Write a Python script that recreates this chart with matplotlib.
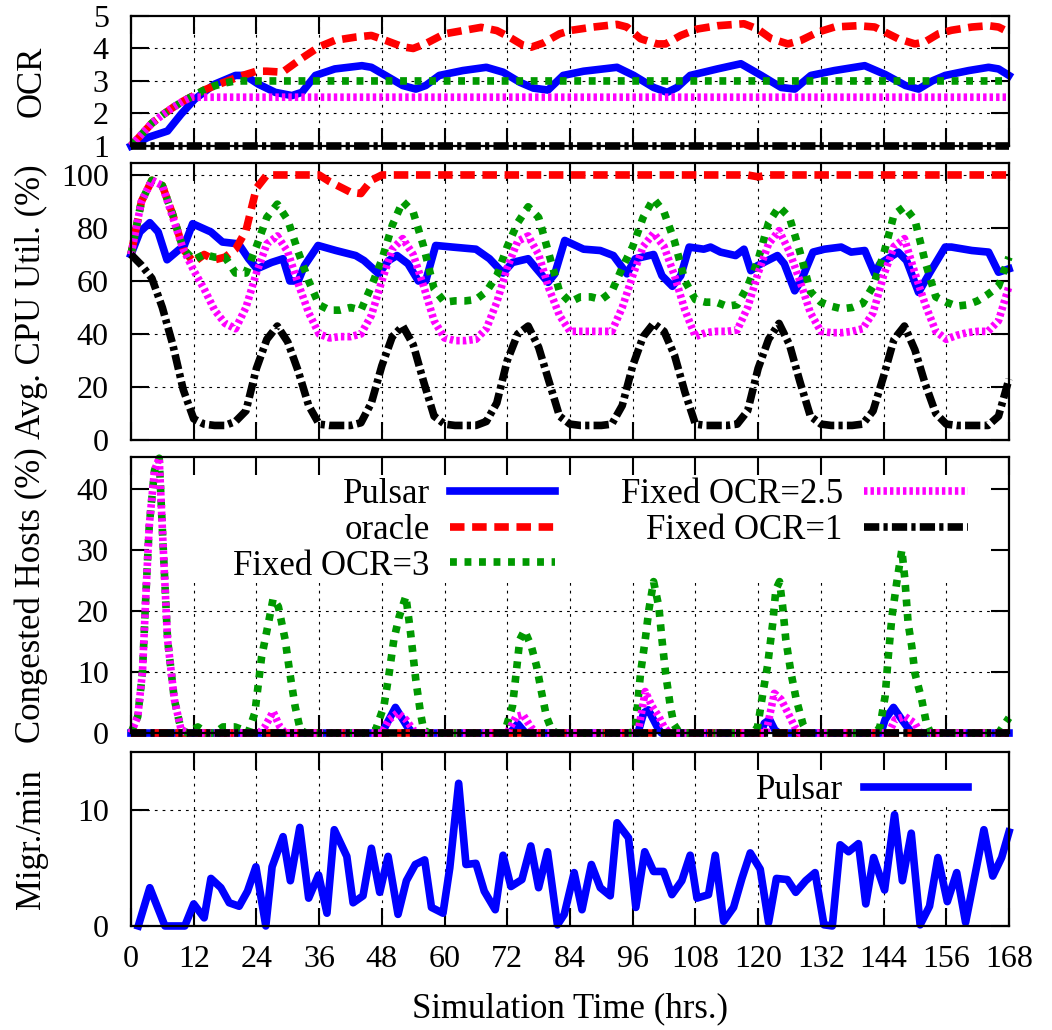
import numpy as np
import matplotlib.pyplot as plt
from matplotlib.patches import Rectangle

plt.rcParams['font.family'] = ['Liberation Serif', 'DejaVu Serif']
plt.rcParams['font.size'] = 24

# ---------------- data ----------------
xticks = [0, 12, 24, 36, 48, 60, 72, 84, 96, 108, 120, 132, 144, 156, 168]
labels = ['Pulsar', 'oracle', 'Fixed OCR=3', 'Fixed OCR=2.5', 'Fixed OCR=1']

# panel 1: OCR
ocr_pulsar_t = [0, 3.2, 7, 9.6, 12.2, 16, 20, 21.8, 24.4, 27.6, 30.8, 32.7, 35.3, 39, 44.2,
                46, 48.7, 52, 54.5, 56.4, 59, 63.5, 68, 71.2, 74.4, 77, 79.8, 82.7, 86.6, 93,
                96.2, 100, 102.6, 104.5, 107, 112.2, 116.7, 120.6, 124.4, 127, 130.1, 134.6,
                140.4, 144.3, 148.2, 150.7, 153.3, 155.8, 160.3, 164.1, 166, 168]
ocr_pulsar = [1.0, 1.26, 1.46, 1.98, 2.44, 2.9, 3.17, 3.17, 2.9, 2.65, 2.55, 2.65, 3.17, 3.37, 3.47,
              3.42, 3.17, 2.86, 2.75, 2.86, 3.17, 3.32, 3.42, 3.27, 2.96, 2.78, 2.72, 3.17, 3.3, 3.42,
              3.17, 2.8, 2.65, 2.8, 3.17, 3.37, 3.53, 3.17, 2.8, 2.75, 3.17, 3.32,
              3.47, 3.2, 2.86, 2.75, 3.0, 3.17, 3.32, 3.42, 3.37, 3.17]
ocr_oracle_t = [0, 2, 4, 6, 8, 10, 12, 14, 16, 18, 21, 24, 26, 29, 32.7, 36, 39, 43, 46, 48.7,
                52, 54, 56.4, 60, 63.5, 67, 70, 72.4, 75, 76.6, 78.9, 82, 84.3, 88.5, 93,
                94.9, 97.5, 100.7, 102.3, 105.2, 108.4, 112.2, 117.3, 119.9, 122.5,
                125.7, 128.2, 131.4, 134.6, 139.1, 142.3, 144.3, 146.8, 150, 151.9,
                154.5, 157, 160.9, 164.1, 166, 168]
ocr_oracle = [1.0, 1.35, 1.7, 1.95, 2.18, 2.38, 2.55, 2.72, 2.85, 2.97, 3.15, 3.3, 3.3, 3.27, 3.7,
              4.05, 4.25, 4.35, 4.4, 4.25, 4.05, 4.0, 4.15, 4.45, 4.55, 4.65, 4.55, 4.35, 4.1, 4.04,
              4.17, 4.45, 4.56, 4.66, 4.74, 4.66, 4.3, 4.14, 4.14, 4.4, 4.6, 4.7, 4.76, 4.6, 4.3,
              4.14, 4.25, 4.5, 4.66, 4.7, 4.66, 4.5, 4.3, 4.14, 4.2, 4.45, 4.56, 4.66, 4.7, 4.66, 4.5]
ocr_fix3_t = [0, 2, 4, 6, 8, 10, 12, 14, 16, 18, 20, 168]
ocr_fix3 = [1.0, 1.35, 1.7, 1.95, 2.18, 2.38, 2.55, 2.72, 2.85, 2.94, 3.0, 3.0]
ocr_fix25_t = [0, 2, 4, 6, 8, 10, 11.5, 168]
ocr_fix25 = [1.0, 1.35, 1.7, 1.95, 2.18, 2.38, 2.5, 2.5]
ocr_fix1_t = [0, 168]
ocr_fix1 = [1.0, 1.0]

# panel 2: average CPU utilisation (%)
cpu_pulsar_t = [0, 1.7, 3.6, 5.2, 6.9, 9, 10.2, 11.8, 15.3, 17.5, 20.6, 22.5, 24.1, 26.9, 29.1,
                30.4, 32, 33.2, 35.8, 39.2, 43, 44.6, 47.4, 49.3, 50.9, 53, 55, 56.4, 58.3, 61.5,
                66, 68.6, 71.2, 73, 76, 77.6, 79.8, 81.1, 83, 86.6, 89.8, 92.3, 94.9, 96.5, 100,
                101.6, 103.6, 105.2, 106.8, 109.6, 110.9, 112.8, 115.7, 117.3, 118.6, 119.9,
                123.7, 125, 127, 128.2, 130.5, 132.7, 135.9, 137.8, 140.4, 142.3, 143.3, 146.8,
                148.4, 150.7, 152.9, 155.8, 157, 160.9, 164.1, 166, 168]
cpu_pulsar = [70, 78.5, 82, 78.5, 68, 71.5, 73.4, 81.6, 78.5, 74.7, 74, 68.4, 64.6, 67, 68.4,
              60, 60, 65.8, 73.4, 71.5, 69.6, 67.7, 62.7, 67.7, 69.6, 66.5, 60, 60, 73.4, 72.8,
              72, 68.4, 63, 67, 68.4, 64.6, 59.5, 62.7, 75.3, 72, 71.5, 69.6, 62.7, 68.4, 70,
              62, 58, 62, 72.8, 72, 72.8, 70.9, 69.6, 72, 63.9, 65.8,
              69.6, 66.5, 56.3, 60, 70.9, 72, 72.8, 70.9, 71.5, 62.7, 66.5, 70.9,
              67.7, 55.7, 63.3, 72.8, 72.8, 71.5, 70.9, 63.3, 64.6]
cpu_oracle_t = [0, 2, 4, 6, 8, 10, 12, 14, 16, 18, 20, 22, 24, 26, 36, 38, 40, 42, 44, 46, 48,
                118, 120, 122, 168]
cpu_oracle = [70, 90, 98, 96, 85, 72, 67, 70, 68, 69, 72, 79, 95, 100, 100, 97.5, 95.5, 93.5, 93,
              98, 100, 100, 99.3, 100, 100]
hours = list(range(0, 169, 2))
cpu_fix3 = [70, 90, 98, 96, 85, 72, 68, 70, 69, 69,
            63, 63, 73, 84, 89, 83, 71, 60, 51, 49,
            49, 50, 49, 58, 68, 81, 90, 86, 73, 57,
            52, 52.5, 52.5, 53, 56, 62, 73, 82, 88, 84,
            70, 56, 52, 54, 54, 53, 56, 65, 73, 84,
            91, 86, 75, 60, 53, 52, 52, 50.5, 51, 58,
            68, 82, 88, 84, 71, 56, 52, 50.5, 49.5, 50,
            51.5, 58, 70, 85, 88, 83, 67, 54, 52, 50.5,
            51, 52.5, 55, 58, 69]
cpu_fix25 = [70, 90, 98, 96, 84, 72, 64, 57, 49, 44,
             42, 50, 63, 74, 77, 71, 59, 48, 40, 38.5,
             39, 39, 40, 47, 60, 72, 76, 70, 58, 45,
             38.5, 37.5, 37.5, 38, 42, 52, 65, 75, 77, 70,
             57, 47, 41, 41, 41, 41, 41, 50, 62, 73,
             78, 73, 62, 49, 39, 40.5, 41, 41, 41.5, 50,
             63, 74, 79, 71, 60, 48, 41, 40.5, 40.5, 41,
             42, 48, 62, 73, 76, 63, 51, 41, 38, 39.5,
             40.5, 41, 41, 45, 58]
cpu_fix1 = [70, 66, 61, 50, 36, 19, 8, 6, 5.5, 5.5,
            7, 11, 27, 38, 43, 37, 26, 13, 6, 5.5,
            5.5, 5.5, 6.5, 14, 28, 39, 43, 36, 22, 9,
            6, 5.5, 5.5, 5.5, 7, 14, 30, 40, 43, 35,
            22, 9, 6, 5.5, 5.5, 5.5, 6, 13, 28, 39,
            44, 41, 32, 18, 6, 5.5, 5.5, 5.5, 6, 11,
            27, 38, 44, 36, 22, 9, 6, 5.5, 5.5, 5.5,
            6, 11, 24, 38, 43, 34, 21, 10, 6, 5.5,
            5.5, 5.5, 5.5, 9, 23]

# panel 3: congested hosts (%)
cong_pulsar_t = [0, 48, 50.6, 52.9, 54, 72.5, 74, 75.5, 97, 98.1, 99, 100.7, 101.5, 120.5, 121.2,
                 122.2, 123.2, 124, 143.5, 144.3, 145.9, 147.5, 148.7, 149.5, 168]
cong_pulsar = [0, 0, 4.2, 1, 0, 0, 1.5, 0, 0, 3.3, 3.8, 1, 0, 0, 1.6,
               2.2, 0.5, 0, 0, 2.2, 4.2, 2.2, 0.8, 0, 0]
cong_oracle_t = [0, 168]
cong_oracle = [0, 0]
cong_fix3_t = [0, 1.3, 2.2, 2.9, 3.5, 4.5, 5.4, 6.1, 7, 8.3, 9.6, 10.9, 12.8, 14.5, 16, 17.6, 19.9,
               21.5, 22.4, 23.7, 25, 26.3, 27.2, 28.2, 29.5, 30.4, 31.4, 32.4, 33.5, 46, 46.8,
               48.4, 49.4, 50.3, 51.3, 52.6, 53.5, 54.5, 55.4, 56, 57, 71, 71.8, 73, 73.7, 74.4,
               75.3, 76.6, 77.6, 78.6, 79.5, 80.5, 81.5, 95.5, 96.5, 97.5, 98.4, 99.1, 100, 101,
               101.6, 102.3, 103.2, 103.9, 105, 119, 119.9, 120.9, 121.8, 122.8, 123.4, 124.1,
               124.7, 125.3, 126.3, 127.3, 128.6, 129.5, 142.5, 143.3, 144.3, 144.9, 145.6,
               146.5, 147.5, 148.1, 148.7, 149.4, 150, 151.3, 152.2, 153, 166, 168]
cong_fix3 = [0, 2.7, 10, 23.5, 34, 43, 45, 31.6, 15.3, 5.5, 0.5, 0, 1, 0, 0, 1, 1,
             0.5, 0, 3.3, 12.5, 18, 22, 20.7, 15.3, 9.8, 4.4, 0.5, 0, 0, 0.5,
             4.4, 9.8, 15.3, 19, 22.4, 16.4, 8.7, 3.3, 0.5, 0, 0, 1, 4.4, 9.8, 15.3,
             16.8, 14.2, 11, 6.5, 2.7, 0.5, 0, 0, 0.5, 9.8, 15.3, 20.2, 24.8, 20.7,
             15.3, 9.8, 4.4, 1.4, 0, 0, 1, 6.5, 11, 18, 23.5, 24.8,
             20.7, 15.3, 9.8, 5.5, 1.4, 0, 0, 1, 6, 12.5, 19,
             24.5, 30, 25, 18, 14.2, 9.8, 5.5, 1.6, 0, 0, 2.5]
cong_fix25_t = [0, 1.3, 2.2, 2.9, 3.5, 4.5, 5.4, 6.1, 7, 8.3, 9.6, 10.9, 24.5, 25.6, 27.2, 28.5,
                29.5, 48, 49.4, 51, 52.6, 54, 55, 72, 73.7, 75, 76.5, 77.5, 97, 98.4, 99.7, 101,
                102, 103, 121.5, 123.1, 124.4, 125.7, 127, 128, 145, 146.2, 148.1, 150, 151, 168]
cong_fix25 = [0, 2.7, 10, 23.5, 34, 43, 45, 31.6, 15.3, 5.5, 0.5, 0, 0, 1, 3.5, 1,
              0, 0, 2.2, 3.3, 2.2, 0.5, 0, 0, 2.7, 3, 1, 0, 0, 6.8, 4.4, 2.7,
              1, 0, 0, 6.5, 5.5, 3.3, 1, 0, 0, 2.2, 2.7, 1.6, 0, 0]
cong_fix1_t = [0, 168]
cong_fix1 = [0, 0]

# panel 4: migrations per minute (Pulsar)
migr_t = [1.4, 3.6, 6.5, 10.3, 12, 14, 15.3, 17.2, 18.8, 20.7, 22.3, 23.9, 25.8, 27, 29.1,
          30.5, 32.3, 34, 35.9, 37.5, 38.9, 41.3, 42.5, 44.4, 46, 47.6, 49.2, 51.1, 52.7, 54.4,
          56.2, 57.5, 59.7, 61, 62.7, 64.1, 66, 67.6, 69.7, 71.2, 72.7, 74.8, 76.5, 78, 79.7,
          81.6, 82.9, 84.8, 86.3, 88.1, 89.8, 91.7, 93, 95.2, 96.6, 98.3, 100, 101.9, 103.5,
          105.4, 107, 108.3, 110.5, 111.8, 113.4, 115.3, 116.9, 118.5, 120.4, 122, 123.5,
          125.6, 127.2, 129.1, 130.9, 132.6, 134.2, 135.7, 137.3, 139.2, 140.6, 142.1, 144.2,
          146.1, 147.6, 149.3, 151, 152.8, 154.4, 156.2, 158, 159.7, 161.5, 163.2, 164.9,
          166.6, 168]
migr = [0, 3.3, 0, 0, 1.9, 0.7, 4.1, 3.3, 2.0, 1.7, 3.0, 5.1, 0, 5.1, 7.7,
        3.9, 8.5, 2.4, 4.4, 1.1, 8.3, 6.0, 2.0, 2.6, 6.7, 2.9, 6.0, 1.0, 3.9, 5.3,
        5.7, 1.6, 1.1, 5.0, 12.3, 5.3, 5.4, 3.0, 1.4, 6.1, 3.4, 4.0, 6.9, 3.3, 6.4,
        0.1, 1.0, 4.6, 1.4, 5.3, 3.3, 2.6, 8.9, 7.6, 1.6, 6.4, 4.7, 4.7, 2.7,
        3.9, 6.1, 2.4, 2.7, 6.1, 0.4, 1.6, 4.1, 6.3, 4.9, 0.3, 4.1,
        4.0, 2.9, 3.9, 4.6, 0.1, 0, 7.0, 6.4, 7.1, 1.9, 5.9, 3.1,
        9.6, 3.9, 8.0, 0.1, 1.7, 5.9, 2.1, 4.6, 0.3, 4.4, 8.3, 4.3,
        5.9, 8.1]

# ---------------- styles ----------------
LW = 5.5
styles = [
    dict(color='#0000ff', lw=LW, linestyle='-'),
    dict(color='#ff0000', lw=LW, dashes=(1.9, 1.0)),
    dict(color='#009900', lw=LW, dashes=(0.9, 1.0)),
    dict(color='#ff00ff', lw=LW, dashes=(0.45, 0.4)),
    dict(color='black', lw=LW, dashes=(2.0, 0.55, 0.55, 0.55)),
]
TICKFS = 23
LABFS = 25


def style_axis(ax, ylim, yticks, ylabel, show_x=False):
    ax.set_xlim(0, 168)
    ax.set_ylim(*ylim)
    ax.set_xticks(xticks)
    ax.set_yticks(yticks)
    for x in xticks[1:-1]:
        ax.axvline(x, color='black', lw=0.8, dashes=(2.5, 4.5), zorder=0.5)
    for y in yticks:
        if ylim[0] < y < ylim[1]:
            ax.axhline(y, color='black', lw=0.8, dashes=(2.5, 4.5), zorder=0.5)
    ax.tick_params(direction='in', length=13, width=1.5, top=True, right=True,
                   labelsize=TICKFS)
    ax.tick_params(axis='x', pad=14, labelbottom=show_x)
    ax.tick_params(axis='y', pad=16)
    for s in ax.spines.values():
        s.set_linewidth(1.6)
        s.set_zorder(3)
    ax.set_ylabel(ylabel, fontsize=LABFS)
    ax.yaxis.set_label_coords(-0.094, 0.5)


def draw(ax, series):
    lines = []
    for (t, v), st in zip(series, styles):
        ln, = ax.plot(t, v, clip_on=False, **st)
        lines.append(ln)
    return lines


fig = plt.figure(figsize=(10.52, 10.30), dpi=100)
L, W = 0.1245, 0.8346
ax1 = fig.add_axes([L, 0.8583, W, 0.1262])
ax2 = fig.add_axes([L, 0.5728, W, 0.2689])
ax3 = fig.add_axes([L, 0.2883, W, 0.2680])
ax4 = fig.add_axes([L, 0.1010, W, 0.1689])

# OCR
draw(ax1, [(ocr_pulsar_t, ocr_pulsar), (ocr_oracle_t, ocr_oracle), (ocr_fix3_t, ocr_fix3),
           (ocr_fix25_t, ocr_fix25), (ocr_fix1_t, ocr_fix1)])
style_axis(ax1, (1, 5), [1, 2, 3, 4, 5], 'OCR')

# CPU
draw(ax2, [(cpu_pulsar_t, cpu_pulsar), (cpu_oracle_t, cpu_oracle), (hours, cpu_fix3),
           (hours, cpu_fix25), (hours, cpu_fix1)])
style_axis(ax2, (0, 104.5), [0, 20, 40, 60, 80, 100], 'Avg. CPU Util. (%)')

# congested hosts
lines = draw(ax3, [(cong_pulsar_t, cong_pulsar), (cong_oracle_t, cong_oracle),
                   (cong_fix3_t, cong_fix3), (cong_fix25_t, cong_fix25),
                   (cong_fix1_t, cong_fix1)])
style_axis(ax3, (0, 45.2), [0, 10, 20, 30, 40], 'Congested Hosts (%)')
ax3.add_patch(Rectangle((0, 24.5), 168, 20.7, facecolor='white', edgecolor='none', zorder=0.8))
ax3.legend(lines, labels, ncol=2, loc='upper right', bbox_to_anchor=(0.953, 0.924),
           frameon=False, markerfirst=False, handlelength=3.0, handletextpad=0.6,
           columnspacing=1.9, labelspacing=0.08, borderpad=0, borderaxespad=0, fontsize=LABFS)

# migrations
mline = ax4.plot(migr_t, migr, clip_on=False, **styles[0])
style_axis(ax4, (0, 15), [0, 10], 'Migr./min', show_x=True)
ax4.add_patch(Rectangle((110, 10.3), 58, 4.7, facecolor='white', edgecolor='none', zorder=0.8))
ax4.legend(mline, ['Pulsar'], loc='upper right', bbox_to_anchor=(0.953, 0.875),
           frameon=False, markerfirst=False, handlelength=3.0, handletextpad=0.6,
           borderpad=0, borderaxespad=0, fontsize=LABFS)
ax4.set_xlabel('Simulation Time (hrs.)', fontsize=LABFS, labelpad=13)

plt.savefig('out.png', dpi=100)
